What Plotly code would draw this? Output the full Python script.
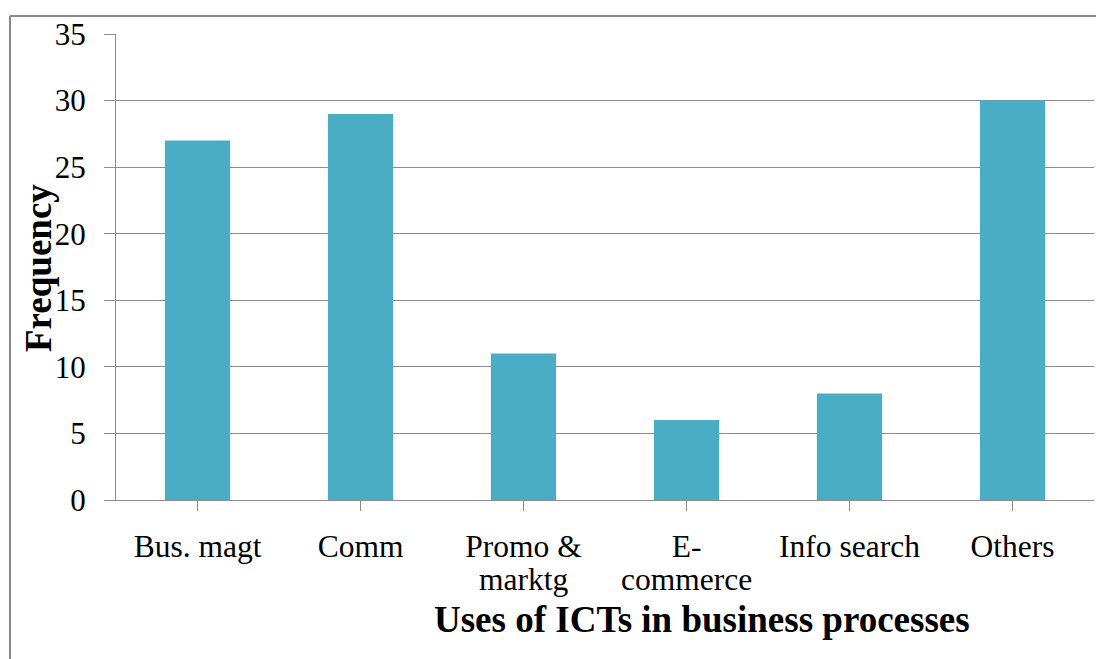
import plotly.graph_objects as go

# Uses of ICTs in business processes: frequency of each use
categories = ["Bus. magt", "Comm", "Promo &", "E-", "Info search", "Others"]
# second lines of the wrapped category labels, keyed by category index
label_second_lines = {2: "marktg", 3: "commerce"}
frequency = [27, 29, 11, 6, 8, 30]
y_ticks = [0, 5, 10, 15, 20, 25, 30, 35]

W, H = 1096, 659
L, R, T, B = 116, 2, 34, 159
pw, ph = W - L - R, H - T - B

def px_x(x):
    return (x - L) / pw

def px_y(y):
    return (H - B - y) / ph

FONT = "Liberation Serif, Times New Roman, serif"
GRID = "#8c8c8c"
CAT_SIZE = 31.5

fig = go.Figure(
    go.Bar(
        x=list(range(len(categories))),
        y=frequency,
        marker=dict(color="#4bacc6", line=dict(width=0)),
        width=0.4,
    )
)

fig.update_layout(
    width=W,
    height=H,
    margin=dict(l=L, r=R, t=T, b=B),
    paper_bgcolor="white",
    plot_bgcolor="white",
    showlegend=False,
    font=dict(family=FONT, color="black"),
)

fig.update_xaxes(
    tickmode="array",
    tickvals=list(range(len(categories))),
    ticktext=categories,
    range=[-0.5, len(categories) - 0.5],
    tickson="boundaries",
    ticks="outside",
    ticklen=10,
    tickcolor=GRID,
    showline=True,
    linecolor=GRID,
    linewidth=1,
    showgrid=False,
    tickfont=dict(size=CAT_SIZE, family=FONT),
    tickangle=0,
    ticklabelstandoff=8,
)

fig.update_yaxes(
    tickvals=y_ticks,
    range=[0, 35],
    ticks="outside",
    ticklen=11,
    tickcolor=GRID,
    showline=True,
    linecolor=GRID,
    linewidth=1,
    showgrid=True,
    gridcolor=GRID,
    gridwidth=1,
    zeroline=False,
    tickfont=dict(size=31, family=FONT),
    ticklabelstandoff=12,
)

# Second lines of wrapped category labels, set tight under the first line
for idx, text in label_second_lines.items():
    fig.add_annotation(
        text=text,
        xref="x", yref="paper",
        x=idx, y=px_y(579),
        xanchor="center", yanchor="middle",
        showarrow=False,
        font=dict(size=CAT_SIZE, family=FONT, color="black"),
    )

# Axis titles
fig.add_annotation(
    text="<b>Frequency</b>",
    xref="paper", yref="paper",
    x=px_x(38), y=px_y(268),
    xanchor="center", yanchor="middle",
    textangle=-90,
    showarrow=False,
    font=dict(size=37, family=FONT, color="black"),
)
fig.add_annotation(
    text="<b>Uses of ICTs in business processes</b>",
    xref="paper", yref="paper",
    x=px_x(702), y=px_y(619),
    xanchor="center", yanchor="middle",
    showarrow=False,
    font=dict(size=37, family=FONT, color="black"),
)

# Chart frame (left and top edges)
fig.add_shape(type="line", xref="paper", yref="paper",
              x0=px_x(10), x1=px_x(10), y0=px_y(680), y1=px_y(16),
              line=dict(color="#888888", width=2))
fig.add_shape(type="line", xref="paper", yref="paper",
              x0=px_x(10), x1=px_x(1110), y0=px_y(16), y1=px_y(16),
              line=dict(color="#888888", width=2))

fig.write_html("out.html")
